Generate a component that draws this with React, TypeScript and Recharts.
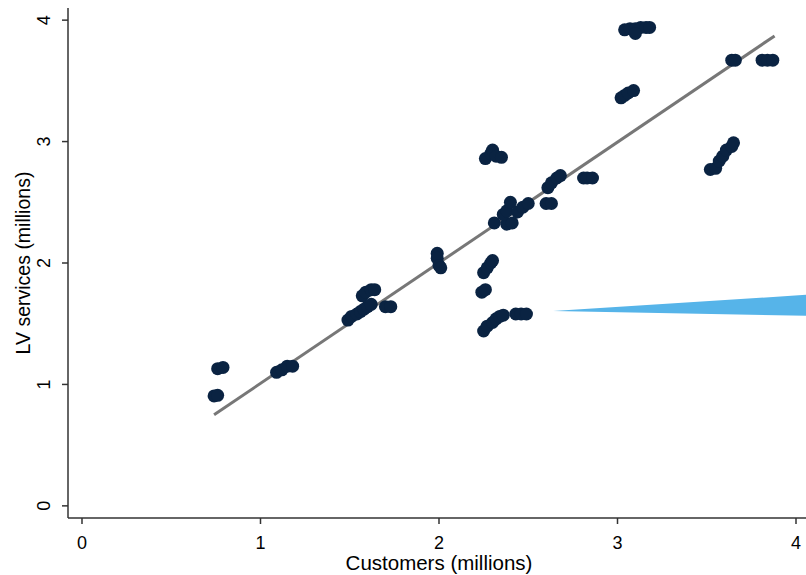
import React from 'react';
import { ComposedChart, Scatter, Line, Area, XAxis, YAxis, Label } from 'recharts';

// customers (millions) vs LV services (millions)
const customers = [
  0.74, 0.76, 0.76, 0.79,
  1.09, 1.12, 1.15, 1.18,
  1.57, 1.59, 1.62, 1.64,
  1.49, 1.51, 1.54, 1.56, 1.58, 1.6, 1.62,
  1.7, 1.73,
  1.99, 1.99, 2.0, 2.01,
  2.26, 2.29, 2.3, 2.32, 2.35,
  2.25, 2.27, 2.29, 2.3,
  2.24, 2.26,
  2.25, 2.27, 2.3, 2.32, 2.34, 2.36,
  2.43, 2.46, 2.49,
  2.31, 2.38, 2.41, 2.36, 2.38, 2.4, 2.44, 2.47, 2.5,
  2.61, 2.63, 2.66, 2.68, 2.6, 2.63,
  2.81, 2.83, 2.86,
  3.04, 3.07, 3.1, 3.13, 3.16, 3.18, 3.1,
  3.02, 3.04, 3.06, 3.09,
  3.64, 3.66,
  3.81, 3.84, 3.87,
  3.52, 3.55, 3.57, 3.59, 3.61, 3.64, 3.65,
];
const lvServices = [
  0.905, 0.91, 1.13, 1.14,
  1.1, 1.12, 1.15, 1.15,
  1.73, 1.76, 1.78, 1.78,
  1.53, 1.56, 1.58, 1.6, 1.62, 1.64, 1.66,
  1.64, 1.64,
  2.08, 2.04, 1.98, 1.96,
  2.86, 2.9, 2.93, 2.88, 2.87,
  1.92, 1.96, 2.0, 2.02,
  1.76, 1.78,
  1.44, 1.48, 1.51, 1.54, 1.56, 1.57,
  1.58, 1.58, 1.58,
  2.33, 2.32, 2.33, 2.4, 2.43, 2.5, 2.42, 2.46, 2.49,
  2.62, 2.66, 2.7, 2.72, 2.49, 2.49,
  2.7, 2.7, 2.7,
  3.92, 3.93, 3.93, 3.94, 3.94, 3.94, 3.89,
  3.36, 3.38, 3.4, 3.42,
  3.67, 3.67,
  3.67, 3.67, 3.67,
  2.77, 2.78, 2.84, 2.88, 2.93, 2.96, 2.99,
];

// fitted line end points
const fitX = [0.74, 3.88];
const fitY = [0.75, 3.87];

// blue wedge
const wedgeX = [2.64, 4.056];
const wedgeLow = [1.605, 1.565];
const wedgeHigh = [1.605, 1.738];

const ticks = [0, 1, 2, 3, 4];

const points = customers.map((c, i) => ({ x: c, y: lvServices[i] }));
const fitData = fitX.map((x, i) => ({ x, fit: fitY[i] }));
const wedgeData = wedgeX.map((x, i) => ({ x, band: [wedgeLow[i], wedgeHigh[i]] }));

const FONT = '"Liberation Sans", Arial, sans-serif';

const Dot = (props: any) => <circle cx={props.cx} cy={props.cy} r={6.5} fill="#0a2342" />;

const YTick = (props: any) => {
  const { x, y, payload } = props;
  const bx = x - 10;
  return (
    <text
      x={bx}
      y={y}
      transform={`rotate(-90 ${bx} ${y})`}
      textAnchor="middle"
      fontSize={18}
      fontFamily={FONT}
      fill="#000"
    >
      {payload.value}
    </text>
  );
};

const XTitle = (props: any) => {
  const vb = props.viewBox;
  return (
    <text x={vb.x + vb.width / 2 + 2} y={vb.y + 52} textAnchor="middle" fontSize={20.5} fontFamily={FONT} fill="#000">
      Customers (millions)
    </text>
  );
};

const YTitle = (props: any) => {
  const vb = props.viewBox;
  const cx = 30;
  const cy = vb.y + vb.height / 2;
  return (
    <text x={cx} y={cy} transform={`rotate(-90 ${cx} ${cy})`} textAnchor="middle" fontSize={19.5} fontFamily={FONT} fill="#000">
      LV services (millions)
    </text>
  );
};

export default function App() {
  return (
    <div style={{ position: 'fixed', left: 0, top: 0, width: 806, height: 575, overflow: 'hidden', background: '#fff' }}>
      <ComposedChart width={806} height={575} margin={{ top: 8, right: 0, left: 0, bottom: 0 }}>
        <XAxis
          type="number"
          dataKey="x"
          domain={[-0.0784, 4.056]}
          ticks={ticks}
          allowDataOverflow
          height={57}
          tickSize={6}
          tickMargin={12}
          tick={{ fontSize: 18, fontFamily: FONT, fill: '#000' }}
          stroke="#333"
          strokeWidth={1.5}
        >
          <Label content={<XTitle />} />
        </XAxis>
        <YAxis
          type="number"
          dataKey="y"
          domain={[-0.1, 4.1]}
          ticks={ticks}
          allowDataOverflow
          width={68}
          tickSize={6}
          tick={<YTick />}
          stroke="#333"
          strokeWidth={1.5}
        >
          <Label content={<YTitle />} />
        </YAxis>
        <Area
          data={wedgeData}
          dataKey="band"
          type="linear"
          stroke="none"
          fill="#56b4e9"
          fillOpacity={1}
          isAnimationActive={false}
        />
        <Scatter data={points} dataKey="y" shape={<Dot />} isAnimationActive={false} />
        <Line
          data={fitData}
          dataKey="fit"
          type="linear"
          stroke="#777777"
          strokeWidth={3}
          dot={false}
          activeDot={false}
          isAnimationActive={false}
        />
      </ComposedChart>
    </div>
  );
}
